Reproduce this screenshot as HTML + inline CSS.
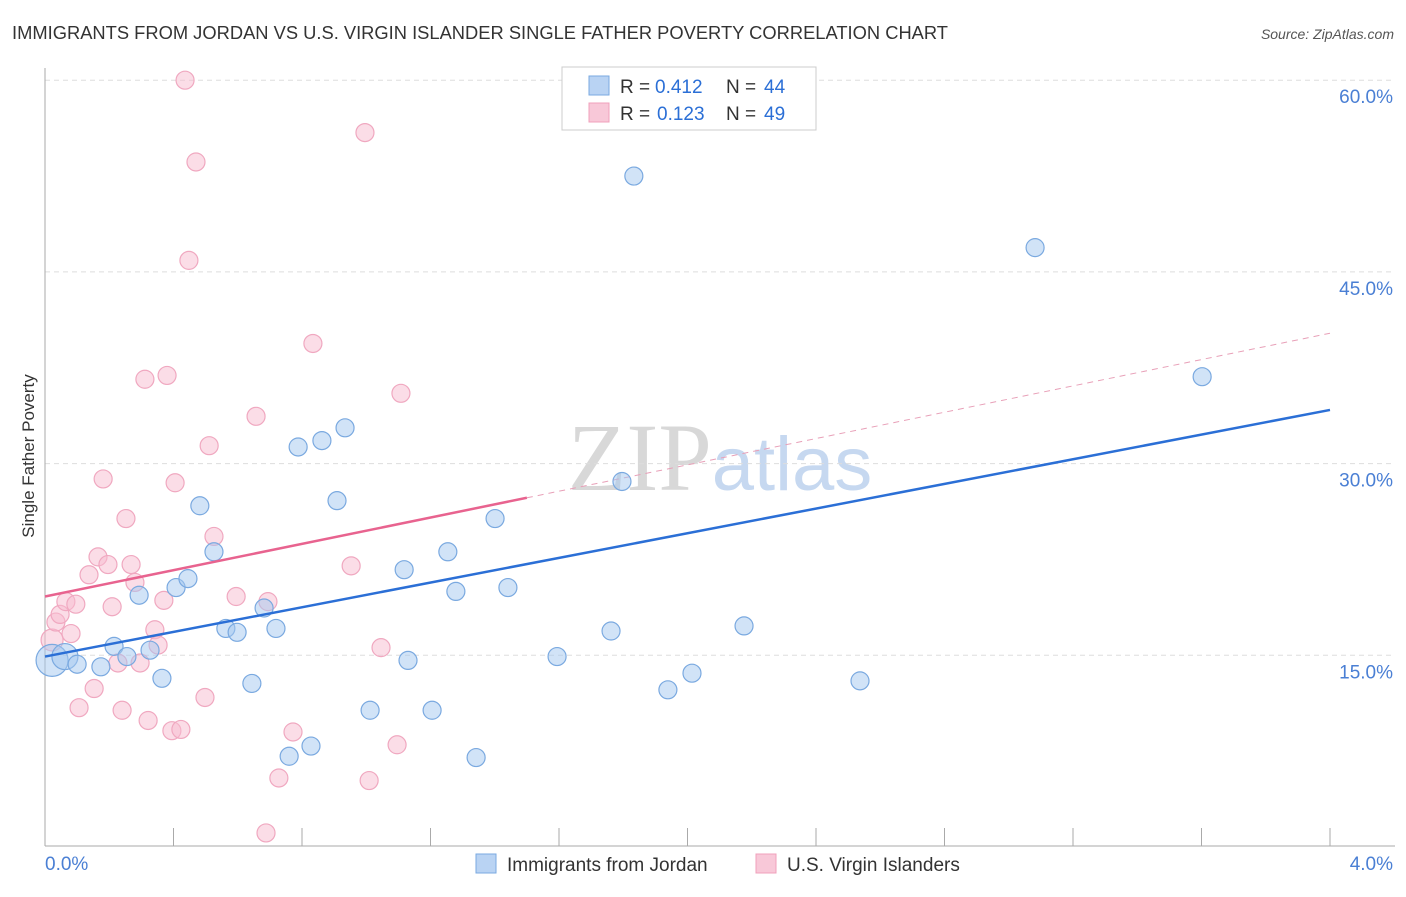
<!DOCTYPE html>
<html><head><meta charset="utf-8"><style>
body{margin:0;background:#fff;font-family:"Liberation Sans",sans-serif}
</style></head><body>
<svg id="chart" width="1406" height="892" xmlns="http://www.w3.org/2000/svg" font-family="Liberation Sans, sans-serif">
<text x="12" y="39" font-size="18" fill="#333" textLength="936" lengthAdjust="spacingAndGlyphs">IMMIGRANTS FROM JORDAN VS U.S. VIRGIN ISLANDER SINGLE FATHER POVERTY CORRELATION CHART</text>
<text x="1394" y="39" font-size="14" fill="#555" font-style="italic" text-anchor="end">Source: ZipAtlas.com</text>
<text transform="translate(34,456) rotate(-90)" font-size="17" fill="#333" text-anchor="middle">Single Father Poverty</text>
<text x="720" y="490" font-size="96" text-anchor="middle"><tspan fill="#d8d8d8" font-family="Liberation Serif, serif">ZIP</tspan><tspan fill="#c6d8f0" font-size="76">atlas</tspan></text>
<g id="grid"></g><g id="axes"></g><g id="lines"></g><g id="pts"></g>
<g>
<rect x="562" y="67" width="254" height="63" fill="#fff" stroke="#ccc"/>
<rect x="589" y="76" width="20" height="19" fill="#b9d3f3" stroke="#7aa9e0"/>
<text x="620" y="93" font-size="19" fill="#333">R =</text>
<text x="655" y="93" font-size="19" fill="#2b6fd6">0.412</text>
<text x="726" y="93" font-size="19" fill="#333">N =</text>
<text x="764" y="93" font-size="19" fill="#2b6fd6">44</text>
<rect x="589" y="103" width="20" height="19" fill="#f8c8d8" stroke="#f0a0bb"/>
<text x="620" y="120" font-size="19" fill="#333">R =</text>
<text x="657" y="120" font-size="19" fill="#2b6fd6">0.123</text>
<text x="726" y="120" font-size="19" fill="#333">N =</text>
<text x="764" y="120" font-size="19" fill="#2b6fd6">49</text>
</g>
<g>
<rect x="476" y="854" width="20" height="19" fill="#b9d3f3" stroke="#7aa9e0"/>
<text x="507" y="871" font-size="19" fill="#333">Immigrants from Jordan</text>
<rect x="756" y="854" width="20" height="19" fill="#f8c8d8" stroke="#f0a0bb"/>
<text x="787" y="871" font-size="19" fill="#333">U.S. Virgin Islanders</text>
</g>
</svg>
<script>
const blueX=[.022,.062,.10,.174,.215,.255,.293,.327,.364,.408,.445,.482,.526,.563,.598,.644,.682,.719,.760,.788,.828,.862,.909,.934,1.012,1.118,1.130,1.205,1.254,1.279,1.342,1.401,1.441,1.594,1.762,1.796,1.833,1.939,2.014,2.176,2.537,3.082,3.602];
const blueY=[14.6,14.9,14.3,14.1,15.7,14.9,19.7,15.4,13.2,20.3,21.0,26.7,23.1,17.1,16.8,12.8,18.7,17.1,7.1,31.3,7.9,31.8,27.1,32.8,10.7,21.7,14.6,10.7,23.1,20.0,7.0,25.7,20.3,14.9,16.9,28.6,52.5,12.3,13.6,17.3,13.0,46.9,36.8];
const pinkX=[.022,.034,.047,.065,.081,.096,.106,.137,.153,.165,.181,.196,.209,.227,.240,.252,.268,.280,.296,.311,.321,.342,.352,.370,.380,.395,.405,.423,.436,.448,.470,.498,.511,.526,.595,.657,.688,.694,.728,.772,.834,.953,.996,1.009,1.046,1.096,1.108];
const pinkY=[16.2,17.6,18.2,19.2,16.7,19.0,10.9,21.3,12.4,22.7,28.8,22.1,18.8,14.4,10.7,25.7,22.1,20.7,14.4,36.6,9.9,17.0,15.8,19.3,36.9,9.1,28.5,9.2,60.0,45.9,53.6,11.7,31.4,24.3,19.6,33.7,1.1,19.2,5.4,9.0,39.4,22.0,55.9,5.2,15.6,8.0,35.5];
const blueFit=[14.9,34.2];
const pinkFit=[19.6,40.2];
const yTicks=[15,30,45,60];
const NS='http://www.w3.org/2000/svg';
const X=v=>45+v*321.25, Y=v=>847-v*12.78;
function mk(p,t,a){const e=document.createElementNS(NS,t);for(const k in a)e.setAttribute(k,a[k]);document.getElementById(p).appendChild(e);return e;}
yTicks.forEach(t=>{
 const l=mk('grid','line',{x1:45,x2:1395,y1:Y(t),y2:Y(t),stroke:'#ddd','stroke-dasharray':'5,4'});
 
 
 const s=mk('grid','text',{x:1393,y:Y(t)+23,'font-size':19,fill:'#4a7fd4','text-anchor':'end'});
 s.textContent=t.toFixed(1)+'%';
 
 
});
mk('axes','line',{x1:45,x2:45,y1:68,y2:846,stroke:'#aaa'});
mk('axes','line',{x1:45,x2:1395,y1:846,y2:846,stroke:'#aaa'});
for(let i=1;i<=10;i++){const l=mk('axes','line',{x1:45+i*128.5,x2:45+i*128.5,y1:828,y2:846,stroke:'#aaa'});}
const xl=mk('axes','text',{x:45,y:870,'font-size':19,fill:'#4a7fd4'});xl.textContent='0.0%';


const xr=mk('axes','text',{x:1393,y:870,'font-size':19,fill:'#4a7fd4','text-anchor':'end'});xr.textContent='4.0%';


const pAt=x=>pinkFit[0]+(pinkFit[1]-pinkFit[0])*x/4;
const pd=mk('lines','line',{x1:X(1.5),y1:Y(pAt(1.5)),x2:X(4),y2:Y(pinkFit[1]),stroke:'#e8a0b8','stroke-width':1,'stroke-dasharray':'6,5'});


pinkX.forEach((x,i)=>{const c=mk('pts','circle',{cx:X(x),cy:Y(pinkY[i]),r:i==0?11:9,fill:'rgba(248,188,208,0.5)',stroke:'#f0a8c0','stroke-width':1.2});

});
blueX.forEach((x,i)=>{const c=mk('pts','circle',{cx:X(x),cy:Y(blueY[i]),r:i==0?16:i==1?13:9,fill:'rgba(164,200,240,0.5)',stroke:'#7aa9e0','stroke-width':1.2});

});
const bl=mk('pts','line',{x1:X(0),y1:Y(blueFit[0]),x2:X(4),y2:Y(blueFit[1]),stroke:'#2b6fd6','stroke-width':2.5});


const pl=mk('pts','line',{x1:X(0),y1:Y(pinkFit[0]),x2:X(1.5),y2:Y(pAt(1.5)),stroke:'#e8638f','stroke-width':2.5});


</script>
</body></html>
